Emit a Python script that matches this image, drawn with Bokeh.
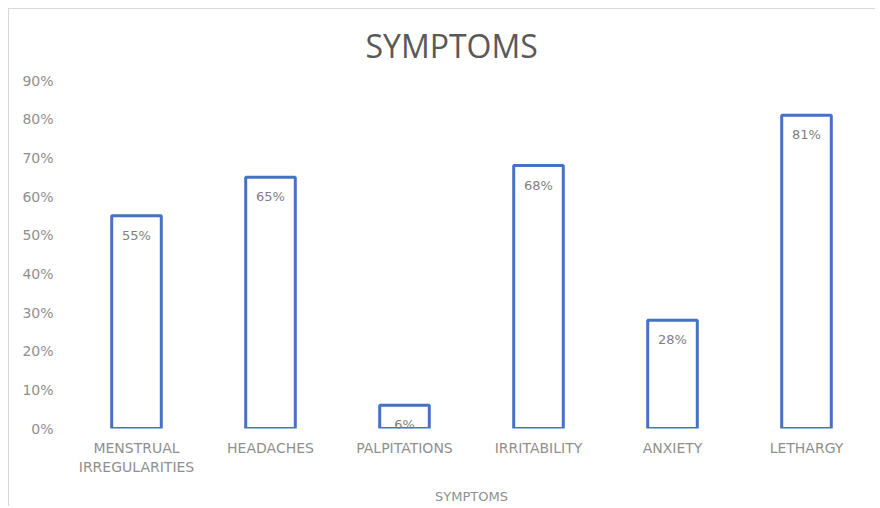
from bokeh.plotting import figure
from bokeh.models import ColumnDataSource, Range1d, NumeralTickFormatter, FixedTicker, LinearAxis
from bokeh.core.properties import value
from bokeh.embed import file_html
from bokeh.resources import INLINE

title_text = "SYMPTOMS"
x_title = "SYMPTOMS"
categories = ["MENSTRUAL IRREGULARITIES", "HEADACHES", "PALPITATIONS", "IRRITABILITY", "ANXIETY", "LETHARGY"]
values = [0.55, 0.65, 0.06, 0.68, 0.28, 0.81]
labels = ["55%", "65%", "6%", "68%", "28%", "81%"]
y_ticks = [0.0, 0.1, 0.2, 0.3, 0.4, 0.5, 0.6, 0.7, 0.8, 0.9]

positions = list(range(len(categories)))
split = [c.split(" ", 1) for c in categories]
first_line = {i: s[0] for i, s in zip(positions, split)}
second_line = {i: (s[1] if len(s) > 1 else "") for i, s in zip(positions, split)}

FONT = "DejaVu Sans"
TITLE_FONT = "Open Sans"
GRAY = "#8f8f8f"

src = ColumnDataSource(dict(x=positions, val=values, lab=labels))

p = figure(x_range=Range1d(-0.5, len(categories) - 0.5), y_range=Range1d(0, 0.9),
           frame_width=804, frame_height=348,
           output_backend="svg", toolbar_location=None,
           min_border_left=60, min_border_right=2, min_border_top=71, min_border_bottom=0,
           styles={"margin-left": "8px", "margin-top": "8px",
                   "border-left": "1px solid #d9d9d9", "border-top": "1px solid #d9d9d9"})
p.xaxis.visible = False

p.vbar(x="x", top="val", width=0.37, source=src, fill_color="white",
       line_color="#4472C4", line_width=3)
p.text(x="x", y="val", text="lab", source=src, y_offset=12, text_align="center",
       text_baseline="top", text_font=value(FONT), text_font_size="13px", text_color="#7f7f7f")

p.title.text = title_text
p.title.align = "left"
p.title.offset = 296
p.title.vertical_align = "top"
p.title.text_font = TITLE_FONT
p.title.text_font_size = "32px"
p.title.text_font_style = "normal"
p.title.text_color = "#595959"
p.title.standoff = 24

p.outline_line_color = None
p.xgrid.grid_line_color = None
p.ygrid.grid_line_color = None

p.yaxis.ticker = FixedTicker(ticks=y_ticks)
p.yaxis.formatter = NumeralTickFormatter(format="0%")
p.yaxis.axis_line_color = None
p.yaxis.major_tick_line_color = None
p.yaxis.minor_tick_line_color = None
p.yaxis.major_tick_out = 0
p.yaxis.major_tick_in = 0
p.yaxis.minor_tick_out = 0
p.yaxis.major_label_standoff = 16
p.yaxis.major_label_text_font = FONT
p.yaxis.major_label_text_font_size = "14px"
p.yaxis.major_label_text_color = GRAY


def make_x_axis(overrides, standoff):
    ax = LinearAxis(ticker=FixedTicker(ticks=positions, minor_ticks=[]))
    ax.axis_line_color = None
    ax.major_tick_line_color = None
    ax.minor_tick_line_color = None
    ax.major_tick_out = 0
    ax.major_tick_in = 0
    ax.minor_tick_out = 0
    ax.major_label_standoff = standoff
    ax.major_label_text_font = FONT
    ax.major_label_text_font_size = "14px"
    ax.major_label_text_color = GRAY
    ax.major_label_overrides = overrides
    return ax


xa = make_x_axis(first_line, 11)
p.add_layout(xa, "below")

xb = make_x_axis(second_line, 0)
xb.axis_label = x_title
xb.axis_label_text_font = FONT
xb.axis_label_text_font_size = "13px"
xb.axis_label_text_font_style = "normal"
xb.axis_label_text_color = GRAY
xb.axis_label_standoff = 11
p.add_layout(xb, "below")

open("out.html", "w").write(file_html(p, INLINE))
